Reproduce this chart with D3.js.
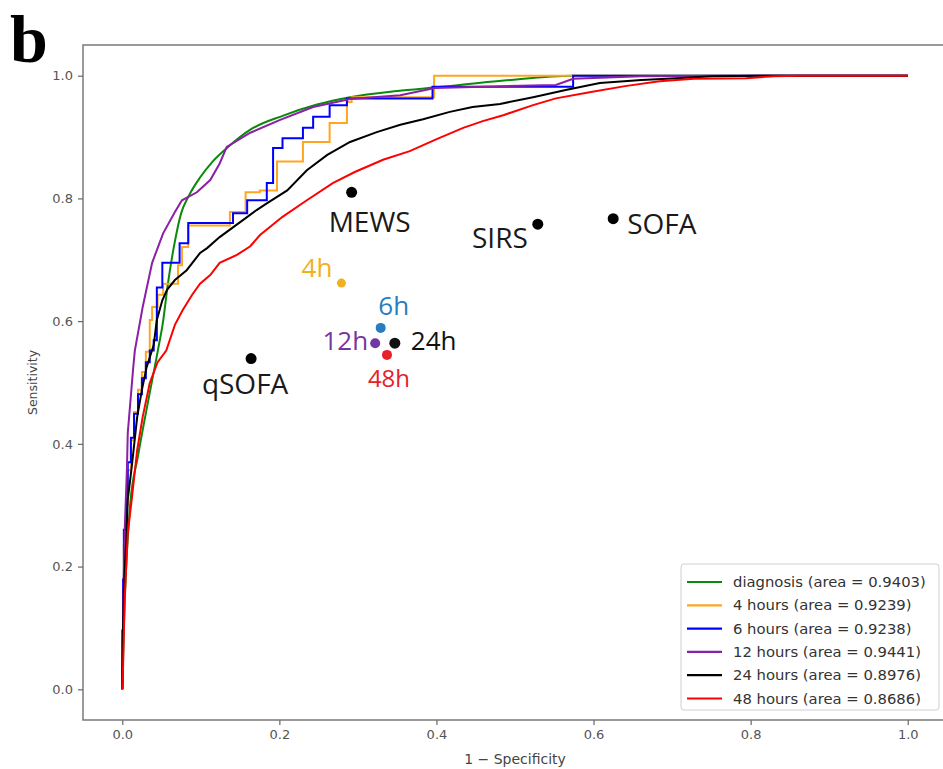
<!DOCTYPE html>
<html><head><meta charset="utf-8">
<script src="https://cdn.jsdelivr.net/npm/d3@7/dist/d3.min.js"></script>
<style>body{margin:0;background:#fff}svg{display:block}</style>
</head><body>
<svg id="c" width="943" height="769"></svg>
<script>
// ---------- data ----------
const seriesNames = ["diagnosis", "4 hours", "6 hours", "12 hours", "24 hours", "48 hours"];
const seriesAUC = ["0.9403", "0.9239", "0.9238", "0.9441", "0.8976", "0.8686"];
const seriesColors = ["#0a8a0a", "#ffa51f", "#0000ff", "#8b1fa6", "#000000", "#ff0000"];

const diagFpr = [0, 0.002, 0.005, 0.010, 0.020, 0.033, 0.045, 0.052, 0.058, 0.067, 0.075, 0.085, 0.099, 0.115, 0.134, 0.163, 0.205, 0.248, 0.290, 0.350, 0.400, 0.486, 0.574, 1.0];
const diagTpr = [0, 0.10, 0.20, 0.30, 0.38, 0.47, 0.55, 0.60, 0.66, 0.73, 0.776, 0.805, 0.834, 0.86, 0.883, 0.912, 0.935, 0.953, 0.965, 0.975, 0.981, 0.992, 1.0, 1.0];

const h4Fpr = [0, 0.001, 0.002, 0.005, 0.007, 0.011, 0.015, 0.020, 0.025, 0.030, 0.035, 0.038, 0.045, 0.052, 0.057, 0.071, 0.076, 0.084, 0.137, 0.157, 0.175, 0.197, 0.230, 0.264, 0.286, 0.292, 0.397, 1.0];
const h4Tpr = [0, 0.081, 0.146, 0.235, 0.300, 0.357, 0.406, 0.452, 0.488, 0.517, 0.550, 0.602, 0.623, 0.643, 0.661, 0.661, 0.691, 0.721, 0.756, 0.778, 0.810, 0.813, 0.860, 0.892, 0.923, 0.957, 0.965, 1.0];

const h6Fpr = [0, 0.001, 0.002, 0.005, 0.007, 0.011, 0.015, 0.020, 0.025, 0.030, 0.035, 0.040, 0.044, 0.051, 0.073, 0.084, 0.141, 0.159, 0.184, 0.192, 0.204, 0.230, 0.243, 0.264, 0.286, 0.395, 0.574, 1.0];
const h6Tpr = [0, 0.096, 0.179, 0.260, 0.317, 0.370, 0.410, 0.449, 0.481, 0.507, 0.533, 0.552, 0.569, 0.655, 0.695, 0.727, 0.760, 0.776, 0.797, 0.825, 0.882, 0.898, 0.915, 0.933, 0.952, 0.963, 0.982, 1.0];

const h12Fpr = [0, 0.001, 0.003, 0.006, 0.007, 0.014, 0.016, 0.026, 0.038, 0.052, 0.067, 0.076, 0.095, 0.112, 0.124, 0.133, 0.163, 0.201, 0.243, 0.290, 0.354, 0.398, 0.552, 0.574, 0.661, 0.786, 1.0];
const h12Tpr = [0, 0.113, 0.255, 0.362, 0.418, 0.525, 0.552, 0.623, 0.695, 0.743, 0.778, 0.797, 0.810, 0.830, 0.857, 0.884, 0.907, 0.928, 0.949, 0.962, 0.968, 0.980, 0.985, 0.995, 0.999, 1.0, 1.0];

const h24Fpr = [0, 0.001, 0.002, 0.005, 0.007, 0.012, 0.019, 0.025, 0.031, 0.040, 0.044, 0.051, 0.057, 0.067, 0.082, 0.099, 0.108, 0.124, 0.154, 0.171, 0.184, 0.210, 0.235, 0.261, 0.290, 0.324, 0.354, 0.383, 0.417, 0.446, 0.481, 0.523, 0.566, 0.608, 0.661, 0.706, 0.751, 0.812, 1.0];
const h24Tpr = [0, 0.097, 0.162, 0.244, 0.309, 0.362, 0.444, 0.488, 0.525, 0.561, 0.602, 0.634, 0.651, 0.667, 0.683, 0.711, 0.719, 0.737, 0.765, 0.781, 0.792, 0.813, 0.846, 0.871, 0.892, 0.908, 0.920, 0.929, 0.941, 0.949, 0.954, 0.965, 0.977, 0.988, 0.993, 0.996, 0.999, 1.0, 1.0];

const h48Fpr = [0, 0.001, 0.003, 0.007, 0.012, 0.019, 0.026, 0.035, 0.045, 0.056, 0.067, 0.077, 0.089, 0.099, 0.112, 0.124, 0.146, 0.163, 0.175, 0.204, 0.235, 0.268, 0.296, 0.332, 0.366, 0.401, 0.434, 0.459, 0.486, 0.523, 0.552, 0.595, 0.640, 0.684, 0.728, 0.794, 0.830, 0.863, 1.0];
const h48Tpr = [0, 0.036, 0.146, 0.255, 0.309, 0.390, 0.444, 0.499, 0.533, 0.552, 0.594, 0.618, 0.643, 0.661, 0.675, 0.695, 0.708, 0.722, 0.740, 0.770, 0.797, 0.825, 0.843, 0.863, 0.877, 0.897, 0.915, 0.926, 0.936, 0.952, 0.963, 0.973, 0.983, 0.991, 0.995, 0.996, 0.999, 1.0, 1.0];

const scoreNames = ["MEWS", "SIRS", "SOFA", "qSOFA"];
const scoreFpr = [0.292, 0.529, 0.625, 0.164];
const scoreTpr = [0.810, 0.758, 0.767, 0.539];

const timeNames = ["4h", "6h", "12h", "24h", "48h"];
const timeFpr = [0.279, 0.329, 0.322, 0.347, 0.337];
const timeTpr = [0.662, 0.589, 0.564, 0.564, 0.545];
const timeColors = ["#f0b020", "#2a7cc0", "#7436a2", "#111111", "#e8202a"];

const tickValues = [0, 0.2, 0.4, 0.6, 0.8, 1.0];

// ---------- layout ----------
const svg = d3.select("#c");
const L = 83, R = 947, T = 45, B = 720;
const x = d3.scaleLinear().domain([-0.05, 1.05]).range([L, R]);
const y = d3.scaleLinear().domain([-0.05, 1.05]).range([B, T]);

svg.append("defs").append("clipPath").attr("id", "clip")
  .append("rect").attr("x", L).attr("y", T).attr("width", R - L).attr("height", B - T);

// panel letter
svg.append("text").attr("x", 10).attr("y", 62)
  .attr("font-family", "Liberation Serif, serif").attr("font-weight", "bold")
  .attr("font-size", 68).attr("fill", "#000").text("b");

// axes
const tickColor = "#555";
const xAxis = svg.append("g").attr("transform", `translate(0,${B})`)
  .call(d3.axisBottom(x).tickValues(tickValues).tickFormat(d3.format(".1f")).tickSize(5).tickPadding(5));
const yAxis = svg.append("g").attr("transform", `translate(${L},0)`)
  .call(d3.axisLeft(y).tickValues(tickValues).tickFormat(d3.format(".1f")).tickSize(5).tickPadding(5));
[xAxis, yAxis].forEach(g => {
  g.select(".domain").remove();
  g.selectAll(".tick line").attr("stroke", "#666").attr("stroke-width", 1.2);
  g.selectAll(".tick text").attr("fill", tickColor).attr("font-size", 13)
    .attr("font-family", "DejaVu Sans, sans-serif");
});

svg.append("text").attr("x", (x(0) + x(1)) / 2).attr("y", 764).attr("text-anchor", "middle")
  .attr("font-family", "DejaVu Sans, sans-serif").attr("font-size", 14).attr("fill", "#444")
  .text("1 \u2212 Specificity");
svg.append("text").attr("transform", `translate(37,${(y(0) + y(1)) / 2}) rotate(-90)`)
  .attr("text-anchor", "middle").attr("font-family", "DejaVu Sans, sans-serif")
  .attr("font-size", 12.5).attr("fill", "#444").text("Sensitivity");

// curves
const series = [
  { fpr: diagFpr, tpr: diagTpr, curve: d3.curveMonotoneX },
  { fpr: h4Fpr, tpr: h4Tpr, curve: d3.curveStepBefore },
  { fpr: h6Fpr, tpr: h6Tpr, curve: d3.curveStepBefore },
  { fpr: h12Fpr, tpr: h12Tpr, curve: d3.curveLinear },
  { fpr: h24Fpr, tpr: h24Tpr, curve: d3.curveLinear },
  { fpr: h48Fpr, tpr: h48Tpr, curve: d3.curveLinear }
];
const gLines = svg.append("g").attr("clip-path", "url(#clip)");
series.forEach((s, i) => {
  const pts = s.fpr.map((f, j) => [f, s.tpr[j]]);
  gLines.append("path")
    .attr("d", d3.line().x(d => x(d[0])).y(d => y(d[1])).curve(s.curve)(pts))
    .attr("fill", "none").attr("stroke", seriesColors[i]).attr("stroke-width", 2)
    .attr("stroke-linejoin", "miter");
});

// frame
svg.append("rect").attr("x", L).attr("y", T).attr("width", R - L).attr("height", B - T)
  .attr("fill", "none").attr("stroke", "#707070").attr("stroke-width", 1.4);

// score points
const labelFont = "Open Sans, Noto Sans, sans-serif";
const scoreLabelPos = [
  { dx: 18, dy: 40, anchor: "middle" },
  { dx: -10, dy: 24, anchor: "end" },
  { dx: 14, dy: 15, anchor: "start" },
  { dx: -6, dy: 35, anchor: "middle" }
];
scoreNames.forEach((n, i) => {
  const cx = x(scoreFpr[i]), cy = y(scoreTpr[i]);
  svg.append("circle").attr("cx", cx).attr("cy", cy).attr("r", 5.5).attr("fill", "#000");
  svg.append("text").attr("x", cx + scoreLabelPos[i].dx).attr("y", cy + scoreLabelPos[i].dy)
    .attr("text-anchor", scoreLabelPos[i].anchor).attr("font-family", labelFont)
    .attr("font-size", 28).attr("fill", "#1a1a1a").text(n);
});

// time points
const timeLabelPos = [
  { dx: -9, dy: -6, anchor: "end", size: 26, r: 4.5 },
  { dx: 13, dy: -13, anchor: "middle", size: 26, r: 5 },
  { dx: -7, dy: 7, anchor: "end", size: 26, r: 5 },
  { dx: 16, dy: 7, anchor: "start", size: 26, r: 5.5 },
  { dx: 2, dy: 32, anchor: "middle", size: 24, r: 5 }
];
timeNames.forEach((n, i) => {
  const cx = x(timeFpr[i]), cy = y(timeTpr[i]), p = timeLabelPos[i];
  svg.append("circle").attr("cx", cx).attr("cy", cy).attr("r", p.r).attr("fill", timeColors[i]);
  svg.append("text").attr("x", cx + p.dx).attr("y", cy + p.dy)
    .attr("text-anchor", p.anchor).attr("font-family", labelFont)
    .attr("font-size", p.size).attr("fill", timeColors[i]).text(n);
});

// legend
const lg = svg.append("g");
lg.append("rect").attr("x", 681).attr("y", 564).attr("width", 258).attr("height", 146).attr("rx", 3)
  .attr("fill", "#fff").attr("fill-opacity", 0.85).attr("stroke", "#d0d0d0").attr("stroke-width", 1);
seriesNames.forEach((n, i) => {
  const yy = 582 + i * 23.3;
  lg.append("line").attr("x1", 687).attr("x2", 722).attr("y1", yy).attr("y2", yy)
    .attr("stroke", seriesColors[i]).attr("stroke-width", 2.2);
  lg.append("text").attr("x", 733).attr("y", yy).attr("dy", "0.35em")
    .attr("font-family", "DejaVu Sans, sans-serif").attr("font-size", 14.8).attr("fill", "#333")
    .text(`${n} (area = ${seriesAUC[i]})`);
});
</script>
</body></html>
